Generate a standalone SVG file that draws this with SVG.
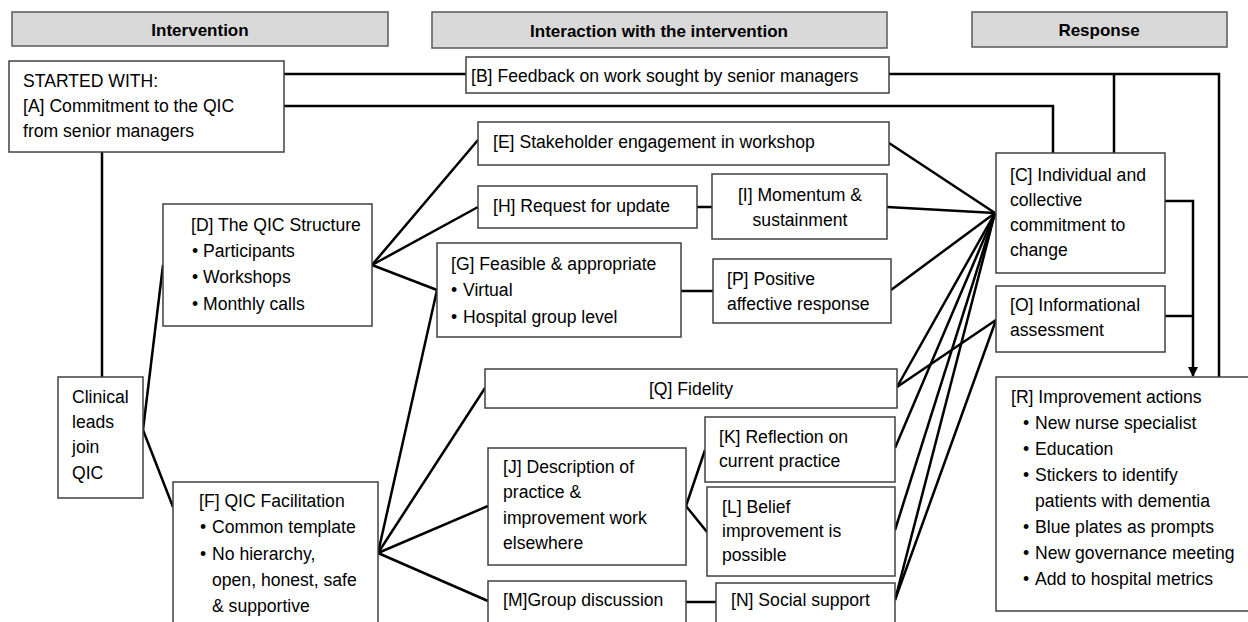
<svg xmlns="http://www.w3.org/2000/svg" width="1248" height="622" viewBox="0 0 1248 622">
<style>
.hdr{fill:#d9d9d9;stroke:#595959;stroke-width:1.5}
.box{fill:#fff;stroke:#404040;stroke-width:1.5}
.t{font-family:"Liberation Sans",Arial,sans-serif;font-size:17.6px;fill:#000}
.h{font-family:"Liberation Sans",Arial,sans-serif;font-size:17px;font-weight:bold;fill:#000;text-anchor:middle}
.c{text-anchor:middle}
.ln{fill:none;stroke:#000;stroke-width:2.5}
</style>
<defs>
<marker id="arr" markerWidth="10" markerHeight="10" refX="9" refY="5" orient="auto" markerUnits="userSpaceOnUse">
<path d="M0,0 L10,5 L0,10 Z" fill="#000"/>
</marker>
</defs>
<rect width="1248" height="622" fill="#fff"/>

<g id="connectors">
<polyline class="ln" points="284,74 466,74"/>
<polyline class="ln" points="889,74 1219,74 1219,377"/>
<polyline class="ln" points="1114,74 1114,153"/>
<polyline class="ln" points="284,106 1053,106 1053,153"/>
<polyline class="ln" points="102,152 102,377"/>
<polyline class="ln" points="143,430 163,265"/>
<polyline class="ln" points="143,430 173,507"/>
<polyline class="ln" points="372,265 478,140"/>
<polyline class="ln" points="372,265 478,207"/>
<polyline class="ln" points="372,265 437,290"/>
<polyline class="ln" points="378,553 437,290"/>
<polyline class="ln" points="378,553 485,388"/>
<polyline class="ln" points="378,553 488,506"/>
<polyline class="ln" points="378,553 488,601"/>
<polyline class="ln" points="697,207 712,207"/>
<polyline class="ln" points="681,291 713,291"/>
<polyline class="ln" points="686,506 705,450"/>
<polyline class="ln" points="686,506 707,532"/>
<polyline class="ln" points="686,602 716,602"/>
<polyline class="ln" points="889,143 995,213"/>
<polyline class="ln" points="887,207 995,213"/>
<polyline class="ln" points="891,290 995,213"/>
<polyline class="ln" points="897,387 995,213"/>
<polyline class="ln" points="895,448 995,213"/>
<polyline class="ln" points="895,530 995,213"/>
<polyline class="ln" points="895,600 995,213"/>
<polyline class="ln" points="897,387 996,320"/>
<polyline class="ln" points="895,600 996,320"/>
<polyline class="ln" points="1165,201 1193,201 1193,376" marker-end="url(#arr)"/>
<polyline class="ln" points="1165,316 1193,316"/>
</g>

<g id="hdr-intervention"><rect class="hdr" x="12" y="12" width="376" height="34"/><text class="h" x="200" y="36">Intervention</text></g>
<g id="hdr-interaction"><rect class="hdr" x="432" y="12" width="455" height="36"/><text class="h" x="659" y="37">Interaction with the intervention</text></g>
<g id="hdr-response"><rect class="hdr" x="972" y="12" width="255" height="35"/><text class="h" x="1099" y="36">Response</text></g>

<g id="A"><rect class="box" x="9" y="61" width="275" height="91"/>
<text class="t" x="23" y="87">STARTED WITH:</text>
<text class="t" x="23" y="112">[A] Commitment to the QIC</text>
<text class="t" x="23" y="137">from senior managers</text></g>

<g id="B"><rect class="box" x="466" y="57" width="423" height="36"/>
<text class="t" x="471" y="82">[B] Feedback on work sought by senior managers</text></g>

<g id="E"><rect class="box" x="478" y="122" width="411" height="43"/>
<text class="t" x="493" y="148">[E] Stakeholder engagement in workshop</text></g>

<g id="H"><rect class="box" x="478" y="186" width="219" height="42"/>
<text class="t" x="493" y="212">[H] Request for update</text></g>

<g id="I"><rect class="box" x="712" y="174" width="175" height="65"/>
<text class="t c" x="800" y="201">[I] Momentum &amp;</text>
<text class="t c" x="800" y="226">sustainment</text></g>

<g id="G"><rect class="box" x="437" y="243" width="244" height="94"/>
<text class="t" x="451" y="270">[G] Feasible &amp; appropriate</text>
<text class="t" x="451" y="296">•</text><text class="t" x="463" y="296">Virtual</text>
<text class="t" x="451" y="323">•</text><text class="t" x="463" y="323">Hospital group level</text></g>

<g id="P"><rect class="box" x="713" y="259" width="178" height="64"/>
<text class="t" x="727" y="285">[P] Positive</text>
<text class="t" x="727" y="310">affective response</text></g>

<g id="C"><rect class="box" x="996" y="153" width="169" height="120"/>
<text class="t" x="1010" y="181">[C] Individual and</text>
<text class="t" x="1010" y="206">collective</text>
<text class="t" x="1010" y="231">commitment to</text>
<text class="t" x="1010" y="256">change</text></g>

<g id="O"><rect class="box" x="996" y="286" width="169" height="66"/>
<text class="t" x="1010" y="311">[O] Informational</text>
<text class="t" x="1010" y="336">assessment</text></g>

<g id="R"><rect class="box" x="996" y="377" width="260" height="234"/>
<text class="t" x="1011" y="403">[R] Improvement actions</text>
<text class="t" x="1023" y="429">•</text><text class="t" x="1035" y="429">New nurse specialist</text>
<text class="t" x="1023" y="455">•</text><text class="t" x="1035" y="455">Education</text>
<text class="t" x="1023" y="481">•</text><text class="t" x="1035" y="481">Stickers to identify</text>
<text class="t" x="1035" y="507">patients with dementia</text>
<text class="t" x="1023" y="533">•</text><text class="t" x="1035" y="533">Blue plates as prompts</text>
<text class="t" x="1023" y="559">•</text><text class="t" x="1035" y="559">New governance meeting</text>
<text class="t" x="1023" y="585">•</text><text class="t" x="1035" y="585">Add to hospital metrics</text></g>

<g id="D"><rect class="box" x="163" y="204" width="209" height="122"/>
<text class="t" x="191" y="231">[D] The QIC Structure</text>
<text class="t" x="192" y="257">•</text><text class="t" x="203" y="257">Participants</text>
<text class="t" x="192" y="283">•</text><text class="t" x="203" y="283">Workshops</text>
<text class="t" x="192" y="310">•</text><text class="t" x="203" y="310">Monthly calls</text></g>

<g id="clinical"><rect class="box" x="58" y="377" width="85" height="121"/>
<text class="t" x="72" y="403">Clinical</text>
<text class="t" x="72" y="428">leads</text>
<text class="t" x="72" y="453">join</text>
<text class="t" x="72" y="479">QIC</text></g>

<g id="F"><rect class="box" x="173" y="482" width="205" height="150"/>
<text class="t" x="199" y="507">[F] QIC Facilitation</text>
<text class="t" x="200" y="533">•</text><text class="t" x="212" y="533">Common template</text>
<text class="t" x="200" y="560">•</text><text class="t" x="212" y="560">No hierarchy,</text>
<text class="t" x="212" y="586">open, honest, safe</text>
<text class="t" x="212" y="612">&amp; supportive</text></g>

<g id="Q"><rect class="box" x="485" y="369" width="412" height="39"/>
<text class="t c" x="691" y="395">[Q] Fidelity</text></g>

<g id="J"><rect class="box" x="488" y="448" width="198" height="117"/>
<text class="t" x="503" y="473">[J] Description of</text>
<text class="t" x="503" y="498">practice &amp;</text>
<text class="t" x="503" y="524">improvement work</text>
<text class="t" x="503" y="549">elsewhere</text></g>

<g id="K"><rect class="box" x="705" y="417" width="190" height="65"/>
<text class="t" x="719" y="443">[K] Reflection on</text>
<text class="t" x="719" y="467">current practice</text></g>

<g id="L"><rect class="box" x="707" y="487" width="188" height="89"/>
<text class="t" x="722" y="513">[L] Belief</text>
<text class="t" x="722" y="537">improvement is</text>
<text class="t" x="722" y="561">possible</text></g>

<g id="M"><rect class="box" x="488" y="581" width="198" height="50"/>
<text class="t" x="503" y="606">[M]Group discussion</text></g>

<g id="N"><rect class="box" x="716" y="583" width="179" height="50"/>
<text class="t" x="731" y="606">[N] Social support</text></g>
</svg>
